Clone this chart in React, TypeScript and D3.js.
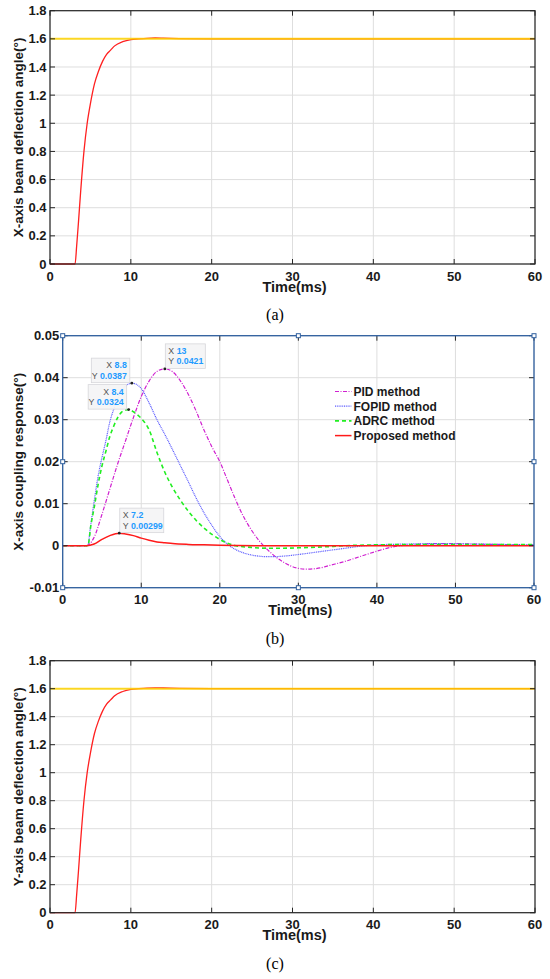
import React from 'react';
import * as d3 from 'd3';

// (a) X-axis beam deflection angle, proposed method vs reference
const angleT = [0, 3.1, 3.3, 3.5, 3.8, 4.2, 4.6, 5.0, 5.5, 6.0, 6.5, 7.0, 7.5, 8, 9, 10, 11, 12, 13, 14, 16, 20, 30, 60];
const xAngle = [0, 0, 0.13, 0.28, 0.52, 0.8, 1.0, 1.14, 1.28, 1.37, 1.44, 1.49, 1.52, 1.55, 1.58, 1.595, 1.6, 1.604, 1.606, 1.605, 1.602, 1.6, 1.6, 1.6];
// (c) Y-axis beam deflection angle
const yAngle = [0, 0, 0.13, 0.28, 0.52, 0.8, 1.0, 1.14, 1.28, 1.37, 1.44, 1.49, 1.52, 1.55, 1.58, 1.595, 1.6, 1.604, 1.606, 1.605, 1.602, 1.6, 1.6, 1.6];
const refT = [0, 60];
const refAngle = [1.6, 1.6];

// (b) X-axis coupling response
const pidT = [0, 3, 4, 5, 6, 7, 8, 9, 10, 11, 12, 13, 14, 15, 16, 17, 18, 19, 20, 21, 22, 23, 24, 25, 26, 27, 28, 29, 30, 31, 32, 33, 34, 36, 38, 40, 42, 44, 46, 48, 50, 52, 55, 60];
const pidV = [0, 0, 0.002, 0.0075, 0.0135, 0.0195, 0.025, 0.0305, 0.0355, 0.0392, 0.0415, 0.0421, 0.0414, 0.0392, 0.036, 0.032, 0.0275, 0.0235, 0.02, 0.0155, 0.011, 0.007, 0.0038, 0.0012, -0.0008, -0.0025, -0.0038, -0.0048, -0.0054, -0.0056, -0.0055, -0.0052, -0.0047, -0.0037, -0.0025, -0.0013, -0.0003, 0.0002, 0.0004, 0.0005, 0.0005, 0.0004, 0.0003, 0.0002];

const fopidT = [0, 3.2, 3.5, 4, 4.5, 5, 5.5, 6, 6.5, 7, 7.5, 8, 8.8, 9.5, 10, 11, 12, 13, 14, 15, 16, 17, 18, 19, 20, 21, 22, 23, 24, 25, 26, 27, 28, 30, 32, 34, 36, 38, 40, 44, 48, 52, 56, 60];
const fopidV = [0, 0, 0.004, 0.0105, 0.0165, 0.021, 0.025, 0.0295, 0.0325, 0.035, 0.0368, 0.038, 0.0387, 0.0383, 0.0374, 0.034, 0.03, 0.0265, 0.0228, 0.019, 0.0152, 0.0113, 0.0078, 0.0048, 0.0022, 0.0003, -0.0009, -0.0017, -0.0022, -0.0025, -0.0026, -0.0026, -0.0025, -0.0021, -0.0016, -0.0011, -0.0006, -0.0001, 0.0002, 0.0004, 0.0005, 0.0004, 0.0003, 0.0002];

const adrcT = [0, 3.2, 3.6, 4, 4.5, 5, 5.5, 6, 6.5, 7, 7.5, 8, 8.4, 9, 9.5, 10, 11, 12, 13, 14, 15, 16, 17, 18, 19, 20, 21, 22, 24, 26, 28, 30, 33, 36, 40, 45, 50, 55, 60];
const adrcV = [0, 0, 0.005, 0.009, 0.0145, 0.019, 0.0225, 0.026, 0.0285, 0.0305, 0.0318, 0.0323, 0.0324, 0.0319, 0.0312, 0.0303, 0.0276, 0.0222, 0.0175, 0.0138, 0.0108, 0.0082, 0.006, 0.0042, 0.0027, 0.0015, 0.0006, 0.0, -0.0004, -0.0006, -0.0006, -0.0005, -0.0003, 0.0, 0.0002, 0.0003, 0.0003, 0.0003, 0.0003];

const propT = [0, 3, 4, 5, 6, 7.2, 8, 9, 10, 11, 12, 13, 14, 16, 18, 20, 25, 60];
const propV = [0, 0, 0.0004, 0.0015, 0.0024, 0.00299, 0.0028, 0.0024, 0.0018, 0.0013, 0.0009, 0.0007, 0.0005, 0.0003, 0.0002, 0.0001, 0, 0];

const legendLabels = ['PID method', 'FOPID method', 'ADRC method', 'Proposed method'];
const tipX = [13, 8.8, 8.4, 7.2];
const tipY = [0.0421, 0.0387, 0.0324, 0.00299];
const tipSide = ['right', 'left', 'left', 'right'];

const xTicks = [0, 10, 20, 30, 40, 50, 60];
const angleTicks = [0, 0.2, 0.4, 0.6, 0.8, 1, 1.2, 1.4, 1.6, 1.8];
const couplingTicks = [-0.01, 0, 0.01, 0.02, 0.03, 0.04, 0.05];

const FONT = '"Liberation Sans", Arial, sans-serif';

type Series = { t: number[]; v: number[]; color: string; width: number; dash?: string; opacity?: number };

interface PanelProps {
  left: number; right: number; top: number; bottom: number;
  yDomain: [number, number]; yTicks: number[];
  yLabel: string; caption: string;
  series: Series[];
  boxColor: string;
  handles?: boolean;
  children?: (x: d3.ScaleLinear<number, number>, y: d3.ScaleLinear<number, number>) => React.ReactNode;
}

function Panel({ left, right, top, bottom, yDomain, yTicks, yLabel, caption, series, boxColor, handles, children }: PanelProps) {
  const x = d3.scaleLinear().domain([0, 60]).range([left, right]);
  const y = d3.scaleLinear().domain(yDomain).range([bottom, top]);
  const fmt = (v: number) => String(+v.toFixed(3));
  const cx = (left + right) / 2;
  const cy = (top + bottom) / 2;
  const tl = 5;
  return (
    <g>
      {xTicks.map(t => (
        <line key={'gx' + t} x1={x(t)} x2={x(t)} y1={top} y2={bottom} stroke="#dedede" strokeWidth={1} />
      ))}
      {yTicks.map(v => (
        <line key={'gy' + v} x1={left} x2={right} y1={y(v)} y2={y(v)} stroke="#dedede" strokeWidth={1} />
      ))}
      {series.map((s, i) => {
        const line = d3.line<number>().x((_, j) => x(s.t[j])).y(d => y(d)).curve(d3.curveMonotoneX);
        return (
          <path key={i} d={line(s.v) || ''} fill="none" stroke={s.color} strokeWidth={s.width}
            strokeDasharray={s.dash} opacity={s.opacity ?? 1} />
        );
      })}
      {/* ticks on all four sides */}
      {xTicks.map(t => (
        <g key={'tx' + t}>
          <line x1={x(t)} x2={x(t)} y1={bottom} y2={bottom - tl} stroke="#262626" />
          <line x1={x(t)} x2={x(t)} y1={top} y2={top + tl} stroke="#262626" />
          <text x={x(t)} y={bottom + 16.5} textAnchor="middle" fontFamily={FONT} fontWeight="bold" fontSize={13} fill="#1a1a1a">{t}</text>
        </g>
      ))}
      {yTicks.map(v => (
        <g key={'ty' + v}>
          <line x1={left} x2={left + tl} y1={y(v)} y2={y(v)} stroke="#262626" />
          <line x1={right} x2={right - tl} y1={y(v)} y2={y(v)} stroke="#262626" />
          <text x={left - 3.5} y={y(v) + 4.6} textAnchor="end" fontFamily={FONT} fontWeight="bold" fontSize={13} fill="#1a1a1a">{fmt(v)}</text>
        </g>
      ))}
      <rect x={left} y={top} width={right - left} height={bottom - top} fill="none" stroke={boxColor} strokeWidth={handles ? 1.3 : 1.2} />
      {handles && [left, cx, right].flatMap(hx => [top, cy, bottom].map(hy => (hx === cx && hy === cy) ? null : (
        <rect key={hx + '-' + hy} x={hx - 2} y={hy - 2} width={4} height={4} fill="#fff" stroke={boxColor} strokeWidth={1} />
      )))}
      {children && children(x, y)}
      <text x={cx + 2} y={bottom + 27.5} textAnchor="middle" fontFamily={FONT} fontWeight="bold" fontSize={14.5} fill="#1a1a1a">Time(ms)</text>
      <text transform={`translate(22.5,${cy}) rotate(-90)`} textAnchor="middle" fontFamily={FONT} fontWeight="bold" fontSize={13.5} fill="#1a1a1a">{yLabel}</text>
      <text x={275} y={bottom + 56} textAnchor="middle" fontFamily='"Liberation Serif", "Times New Roman", serif' fontSize={16} fill="#000">{caption}</text>
    </g>
  );
}

const couplingSeries: Series[] = [
  { t: pidT, v: pidV, color: '#d020d0', width: 1.2, dash: '4,1.5,1,1.5' },
  { t: fopidT, v: fopidV, color: '#5a5aff', width: 1.2, dash: '1,0.8' },
  { t: adrcT, v: adrcV, color: '#22ee22', width: 1.6, dash: '4,3' },
  { t: propT, v: propV, color: '#ff1a1a', width: 1.5 },
];

export default function App() {
  const angleSeries = (v: number[]): Series[] => [
    { t: angleT, v, color: '#ff2020', width: 1.3 },
    { t: refT, v: refAngle, color: '#ffd400', width: 2, opacity: 0.85 },
  ];
  return (
    <svg width={550} height={979} style={{ position: 'absolute', left: 0, top: 0, background: '#fff' }}>
      <Panel left={50} right={535} top={10.7} bottom={264} yDomain={[0, 1.8]} yTicks={angleTicks}
        yLabel="X-axis beam deflection angle(°)" caption="(a)" series={angleSeries(xAngle)} boxColor="#262626" />
      <Panel left={62.7} right={534} top={335.7} bottom={587.7} yDomain={[-0.01, 0.05]} yTicks={couplingTicks}
        yLabel="X-axis coupling response(°)" caption="(b)" series={couplingSeries} boxColor="#2f5f9e" handles>
        {(x, y) => (
          <g>
            {/* legend */}
            {legendLabels.map((l, i) => {
              const s = couplingSeries[i];
              const ly = 391.5 + i * 14.7;
              return (
                <g key={l}>
                  <line x1={335} x2={351.5} y1={ly} y2={ly} stroke={s.color} strokeWidth={s.width} strokeDasharray={s.dash} />
                  <text x={353.5} y={ly + 4.3} fontFamily={FONT} fontWeight="bold" fontSize={12} fill="#1a1a1a">{l}</text>
                </g>
              );
            })}
            {/* data tips */}
            {tipX.map((tx, i) => {
              const px = x(tx);
              const py = y(tipY[i]);
              const right = tipSide[i] === 'right';
              const w = right ? (i === 3 ? 44 : 40) : 38.5;
              const h = 24.5;
              const bx = right ? px + 0.5 : px - 2 - w;
              const by = py - h - 0.5;
              const tx0 = right ? bx + 3 : bx + w - 3;
              const ys = String(tipY[i]);
              return (
                <g key={i}>
                  <rect x={bx} y={by} width={w} height={h} fill="#f4f4f6" fillOpacity={0.95} stroke="#d6d6da" strokeWidth={0.8} />
                  <text x={tx0} y={by + 10} textAnchor={right ? 'start' : 'end'} fontFamily={FONT} fontSize={8.8}>
                    <tspan fill="#555">X </tspan><tspan fill="#1e9bff" fontWeight="bold">{tx}</tspan>
                  </text>
                  <text x={tx0} y={by + 20.5} textAnchor={right ? 'start' : 'end'} fontFamily={FONT} fontSize={8.8}>
                    <tspan fill="#555">Y </tspan><tspan fill="#1e9bff" fontWeight="bold">{ys}</tspan>
                  </text>
                  <circle cx={px} cy={py} r={1.4} fill="#222" />
                </g>
              );
            })}
          </g>
        )}
      </Panel>
      <Panel left={50} right={535} top={660.7} bottom={912.7} yDomain={[0, 1.8]} yTicks={angleTicks}
        yLabel="Y-axis beam deflection angle(°)" caption="(c)" series={angleSeries(yAngle)} boxColor="#262626" />
    </svg>
  );
}
